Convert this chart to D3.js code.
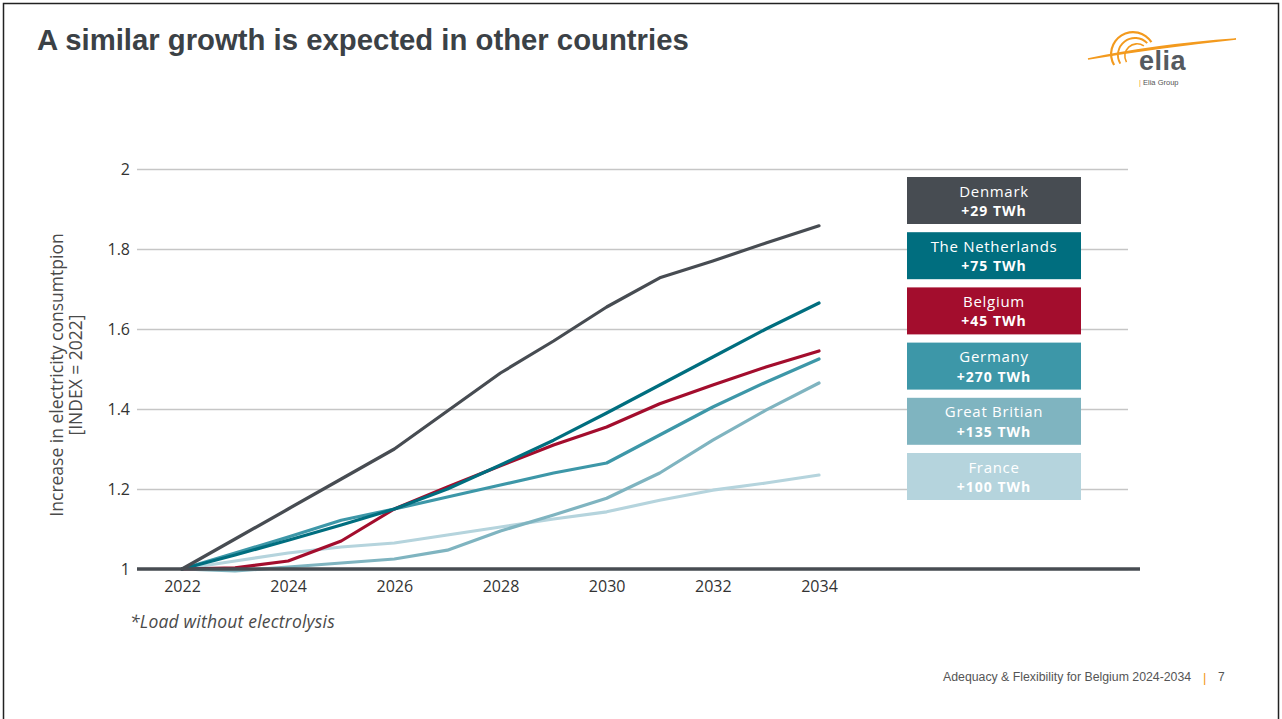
<!DOCTYPE html>
<html>
<head>
<meta charset="utf-8">
<script src="https://cdn.jsdelivr.net/npm/d3@7"></script>
<style>
  html, body { margin: 0; padding: 0; background: #fff; }
  svg { display: block; }
</style>
</head>
<body>
<svg id="chart" width="1282" height="719"></svg>
<script>
// data
const years = [2022, 2023, 2024, 2025, 2026, 2027, 2028, 2029, 2030, 2031, 2032, 2033, 2034];
const countries = ['Denmark', 'The Netherlands', 'Belgium', 'Germany', 'Great Britian', 'France'];
const growthLabels = ['+29 TWh', '+75 TWh', '+45 TWh', '+270 TWh', '+135 TWh', '+100 TWh'];
const colors = ['#474c52', '#006e7f', '#a30d2d', '#3d97a8', '#7fb4c0', '#b5d4dd'];

const denmark     = [1.00, 1.075, 1.15, 1.225, 1.30, 1.395, 1.49, 1.57, 1.655, 1.728, 1.77, 1.815, 1.858];
const netherlands = [1.00, 1.035, 1.072, 1.11, 1.15, 1.20, 1.26, 1.322, 1.39, 1.46, 1.53, 1.60, 1.665];
const belgium     = [1.00, 1.003, 1.02, 1.07, 1.15, 1.205, 1.258, 1.31, 1.355, 1.413, 1.46, 1.505, 1.545];
const germany     = [1.00, 1.04, 1.08, 1.122, 1.15, 1.18, 1.21, 1.24, 1.265, 1.335, 1.405, 1.467, 1.525];
const britain     = [1.00, 0.995, 1.005, 1.015, 1.025, 1.047, 1.095, 1.135, 1.177, 1.24, 1.322, 1.397, 1.465];
const france      = [1.00, 1.02, 1.04, 1.055, 1.065, 1.085, 1.105, 1.125, 1.143, 1.172, 1.197, 1.215, 1.235];
const series = [denmark, netherlands, belgium, germany, britain, france];

const yTicks = [1, 1.2, 1.4, 1.6, 1.8, 2];
const xTicks = [2022, 2024, 2026, 2028, 2030, 2032, 2034];

const svg = d3.select('#chart');
const font = "'Open Sans', sans-serif";
const arial = "'Liberation Sans', Arial, sans-serif";
const orange = '#f39a1e';

// slide border
svg.append('rect')
  .attr('x', 3.5).attr('y', 3.5).attr('width', 1275).attr('height', 1000)
  .attr('fill', 'none').attr('stroke', '#222').attr('stroke-width', 1.5);

// title
svg.append('text')
  .attr('x', 37).attr('y', 50)
  .attr('font-family', arial)
  .attr('font-weight', 'bold').attr('font-size', 29.3)
  .attr('fill', '#3b4146')
  .text('A similar growth is expected in other countries');

// logo
const logo = svg.append('g');
[[1133, 54, 23], [1135, 55, 18], [1137, 56, 13]].forEach(([cx, cy, r], i) => {
  logo.append('path')
    .attr('d', d3.arc()({ innerRadius: r - 2.2 + i * 0.3, outerRadius: r, startAngle: -2.1, endAngle: 1.0 - i * 0.2 }))
    .attr('transform', `translate(${cx},${cy})`)
    .attr('fill', orange);
});
logo.append('path')
  .attr('d', 'M1088,59 C1130,50 1180,43 1236,39 C1180,45 1130,52 1088,59 Z')
  .attr('fill', orange).attr('stroke', orange).attr('stroke-width', 1.6);
logo.append('text')
  .attr('x', 1139).attr('y', 70)
  .attr('font-family', arial)
  .attr('font-weight', 'bold').attr('font-size', 27).attr('letter-spacing', 0.5).attr('fill', '#555a60')
  .text('elia');
logo.append('text')
  .attr('x', 1139).attr('y', 85)
  .attr('font-family', arial)
  .attr('font-size', 7.5).attr('fill', '#555')
  .html('<tspan fill="' + orange + '">|</tspan> Elia Group');

// scales
const x = d3.scaleLinear().domain([2022, 2034]).range([182, 819]);
const y = d3.scaleLinear().domain([1, 2]).range([569, 169]);

// y grid + labels
const yAxis = svg.append('g')
  .attr('transform', 'translate(137,0)')
  .call(d3.axisLeft(y).tickValues(yTicks).tickSize(-(1128 - 137)).tickPadding(7).tickFormat(d => d));
yAxis.select('.domain').remove();
yAxis.selectAll('.tick line').attr('stroke', '#c6c6c6').attr('stroke-width', 1.5);
yAxis.selectAll('.tick text')
  .attr('font-family', font).attr('font-size', 16).attr('fill', '#333');

// y title
svg.append('text')
  .attr('transform', 'translate(0,375) rotate(-90)')
  .attr('text-anchor', 'middle')
  .attr('font-family', font).attr('font-size', 17.5).attr('fill', '#4a4a4a')
  .selectAll('tspan')
  .data(['Increase in electricity consumtpion', '[INDEX = 2022]'])
  .join('tspan')
  .attr('x', 0)
  .attr('y', (d, i) => 63 + i * 19)
  .text(d => d);

// lines (lightest drawn first)
const line = d3.line().x((d, i) => x(years[i])).y(d => y(d));
const order = [5, 4, 3, 2, 1, 0];
svg.append('g')
  .selectAll('path')
  .data(order)
  .join('path')
  .attr('d', i => line(series[i]))
  .attr('fill', 'none')
  .attr('stroke', i => colors[i])
  .attr('stroke-width', 3.2)
  .attr('stroke-linejoin', 'round')
  .attr('stroke-linecap', 'round');

// baseline
svg.append('line')
  .attr('x1', 137).attr('x2', 1140)
  .attr('y1', y(1)).attr('y2', y(1))
  .attr('stroke', '#474c52').attr('stroke-width', 3.5);

// x axis labels
const xAxis = svg.append('g')
  .attr('transform', `translate(0,${y(1)})`)
  .call(d3.axisBottom(x).tickValues(xTicks).tickSize(0).tickPadding(12).tickFormat(d3.format('d')));
xAxis.select('.domain').remove();
xAxis.selectAll('.tick text')
  .attr('font-family', font).attr('font-size', 16).attr('fill', '#333');

// footnote
svg.append('text')
  .attr('x', 130).attr('y', 628)
  .attr('font-family', font).attr('font-style', 'italic')
  .attr('font-size', 17.5).attr('letter-spacing', 0.2).attr('fill', '#4a4a4a')
  .text('*Load without electrolysis');

// legend boxes
const legend = svg.append('g')
  .selectAll('g')
  .data(countries)
  .join('g')
  .attr('transform', (d, i) => `translate(907,${177 + i * 55.2})`);
legend.append('rect')
  .attr('width', 174).attr('height', 47)
  .attr('fill', (d, i) => colors[i]);
legend.append('text')
  .attr('x', 87).attr('y', 19.5)
  .attr('text-anchor', 'middle')
  .attr('font-family', font).attr('font-size', 15).attr('letter-spacing', 0.7).attr('fill', '#fff')
  .text(d => d);
legend.append('text')
  .attr('x', 87).attr('y', 39)
  .attr('text-anchor', 'middle')
  .attr('font-family', font).attr('font-weight', 'bold').attr('font-size', 14).attr('letter-spacing', 1).attr('fill', '#fff')
  .text((d, i) => growthLabels[i]);

// footer
svg.append('text')
  .attr('x', 943).attr('y', 681)
  .attr('font-family', arial)
  .attr('font-size', 12.3).attr('fill', '#555')
  .text('Adequacy & Flexibility for Belgium 2024-2034');
svg.append('text')
  .attr('x', 1203).attr('y', 682)
  .attr('font-family', arial)
  .attr('font-size', 13).attr('fill', orange)
  .text('|');
svg.append('text')
  .attr('x', 1218).attr('y', 681)
  .attr('font-family', arial)
  .attr('font-size', 12).attr('fill', '#555')
  .text('7');
</script>
</body>
</html>
